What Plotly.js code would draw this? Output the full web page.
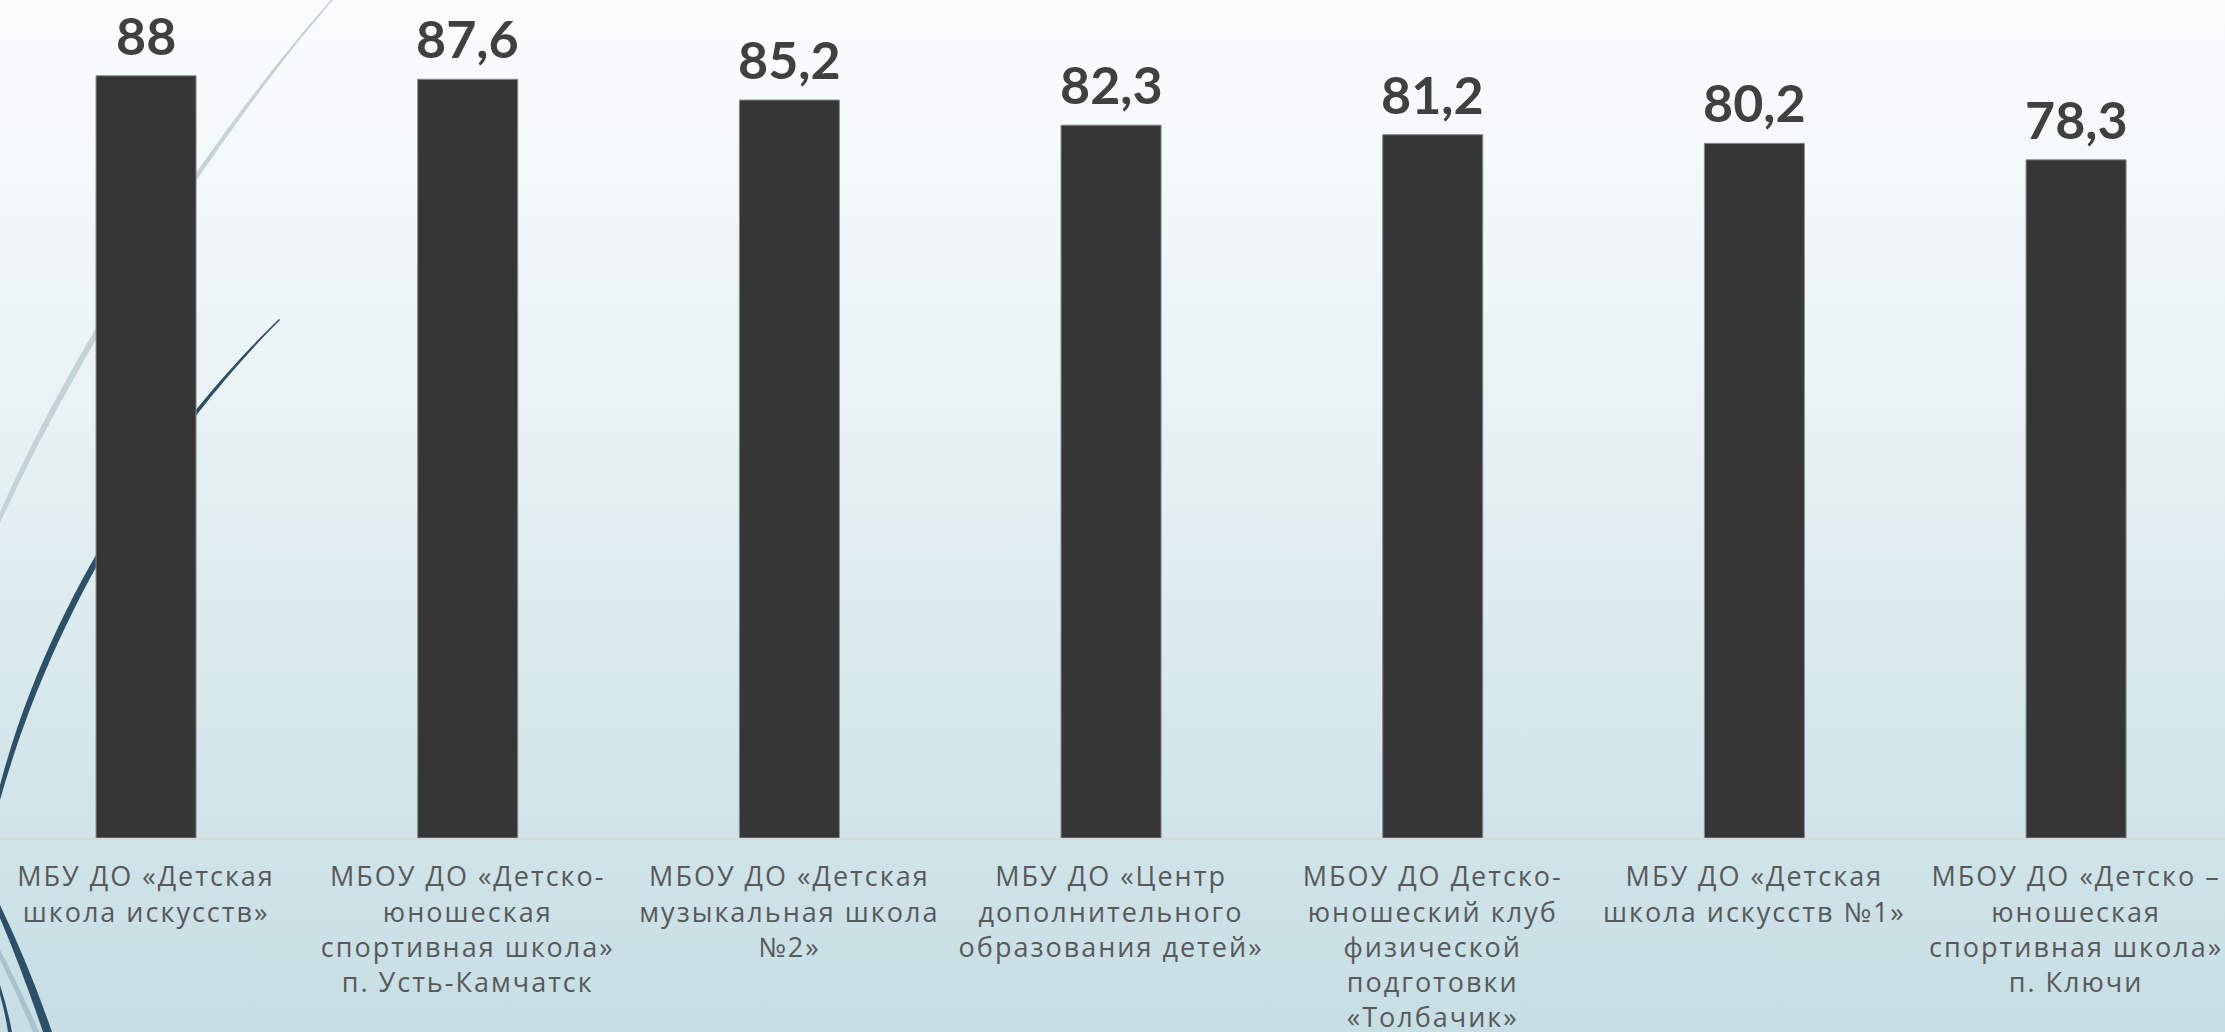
<!DOCTYPE html>
<html>
<head>
<meta charset="utf-8">
<script src="https://cdn.plot.ly/plotly-3.0.1.min.js"></script>
<style>
  html, body { margin: 0; padding: 0; }
  #chart {
    width: 2225px; height: 1032px;
    background: linear-gradient(to bottom, #fbfdfd 0%, #e9f2f4 40%, #d3e6eb 75%, #c6dee4 100%);
  }
  .xtick text { letter-spacing: 2px; }
</style>
</head>
<body>
<div id="chart"></div>
<script>
// ---- data ----
const categories = [
  "МБУ ДО «Детская<br>школа искусств»",
  "МБОУ ДО «Детско-<br>юношеская<br>спортивная школа»<br>п. Усть-Камчатск",
  "МБОУ ДО «Детская<br>музыкальная школа<br>№2»",
  "МБУ ДО «Центр<br>дополнительного<br>образования детей»",
  "МБОУ ДО Детско-<br>юношеский клуб<br>физической<br>подготовки<br>«Толбачик»",
  "МБУ ДО «Детская<br>школа искусств №1»",
  "МБОУ ДО «Детско –<br>юношеская<br>спортивная школа»<br>п. Ключи"
];
const values = [88, 87.6, 85.2, 82.3, 81.2, 80.2, 78.3];
const valueLabels = values.map(v => String(v).replace('.', ','));

// ---- layout helpers ----
const W = 2225, H = 1032, PLOT_BOTTOM = 838;
function P(str) {
  // convert a pixel-space SVG path into paper coordinates
  let idx = 0;
  return str.replace(/-?\d+(\.\d+)?/g, m => {
    const n = parseFloat(m);
    const out = (idx % 2 === 0) ? (n / W) : ((PLOT_BOTTOM - n) / PLOT_BOTTOM);
    idx++;
    return out.toFixed(5);
  });
}

const shapes = [
  // light thin wisp
  { type: 'path', xref: 'paper', yref: 'paper', layer: 'below',
    path: P('M 331 0 C 241 100 90 310 0 512 L 0 523 C 96 314 244 102 333 0 Z'),
    fillcolor: '#c3d3da', line: { width: 0 } },
  // dark wisp
  { type: 'path', xref: 'paper', yref: 'paper', layer: 'below',
    path: P('M 279 319 C 200 395 60 560 0 785 L 0 800 C 67 563 203 397 280 320 Z'),
    fillcolor: '#2c5068', line: { width: 0 } },
  // bottom-left arcs
  { type: 'path', xref: 'paper', yref: 'paper', layer: 'below',
    path: P('M 0 918 Q 22 970 43 1032 L 52 1032 Q 30 968 0 905 Z'),
    fillcolor: '#2c5068', line: { width: 0 } },
  { type: 'path', xref: 'paper', yref: 'paper', layer: 'below',
    path: P('M 0 960 Q 18 995 33 1032 L 39 1032 Q 22 992 0 950 Z'),
    fillcolor: '#a8c2ce', line: { width: 0 } },
  { type: 'path', xref: 'paper', yref: 'paper', layer: 'below',
    path: P('M 0 995 Q 5 1012 8 1032 L 12 1032 Q 8 1010 0 985 Z'),
    fillcolor: '#2c5068', line: { width: 0 } }
];

const annotations = values.map((v, i) => ({
  x: i, y: v, xref: 'x', yref: 'y',
  text: valueLabels[i], showarrow: false,
  yanchor: 'bottom', xanchor: 'center', yshift: 8,
  font: { family: 'Lato, "Open Sans", sans-serif', size: 52, weight: 700, color: '#404040' }
}));

const trace = {
  type: 'bar',
  x: categories.map((c, i) => i),
  y: values,
  marker: { color: '#363636', line: { color: '#8a8a8a', width: 1 } },
  hoverinfo: 'skip'
};

const layout = {
  width: W, height: H,
  margin: { l: 0, r: 0, t: 0, b: H - PLOT_BOTTOM, pad: 0 },
  paper_bgcolor: 'rgba(0,0,0,0)',
  plot_bgcolor: 'rgba(0,0,0,0)',
  showlegend: false,
  bargap: 0.689,
  xaxis: {
    type: 'linear',
    range: [-0.454, 6.463],
    tickmode: 'array',
    tickvals: categories.map((c, i) => i),
    ticktext: categories,
    showgrid: false, zeroline: false,
    showline: true, linecolor: '#d6d9db', linewidth: 2,
    ticks: '', ticklabelstandoff: 14,
    tickfont: { family: '"Open Sans", sans-serif', size: 27, color: '#595959' },
    fixedrange: true
  },
  yaxis: {
    range: [0, 96.75],
    showgrid: false, zeroline: false, showline: false,
    showticklabels: false, ticks: '',
    fixedrange: true
  },
  shapes: shapes,
  annotations: annotations
};

Plotly.newPlot('chart', [trace], layout, { displayModeBar: false, staticPlot: true });
</script>
</body>
</html>
